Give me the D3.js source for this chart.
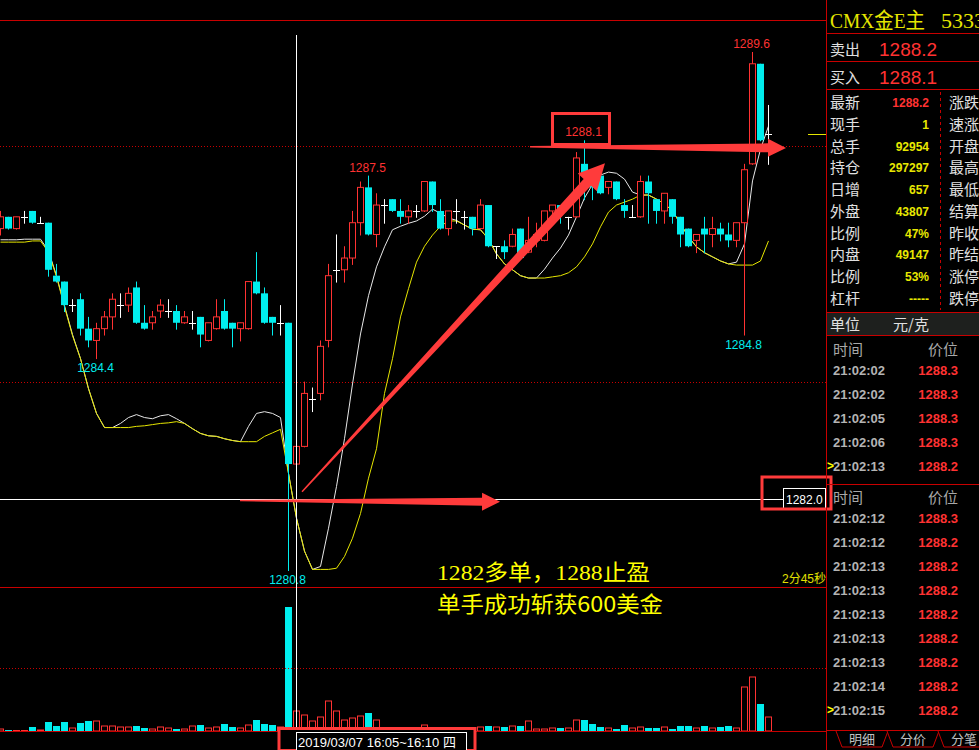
<!DOCTYPE html>
<html>
<head>
<meta charset="utf-8">
<script src="https://cdn.jsdelivr.net/npm/d3@7"></script>
<style>
html, body { margin: 0; padding: 0; background: #000; overflow: hidden; }
svg { display: block; }
text { font-family: "Liberation Sans", Arial, "Noto Sans CJK SC", sans-serif; }
</style>
</head>
<body>
<div id="chart"></div>
<script>
// 1 minute bars (index 0 = first bar on the left)
var opens = [1286.6,1286.8,1286.6,1286.8,1286.9,1286.7,1286.7,1285.8,1285.7,1285.3,
  1285.4,1284.9,1284.7,1284.9,1285.1,1285.3,1285.3,1285.6,1285.0,1285.0,
  1285.2,1285.2,1285.2,1285.0,1285.0,1285.1,1284.7,1284.9,1285.2,1285.0,
  1284.9,1284.9,1285.7,1285.5,1285.1,1285.0,1285.0,1282.6,1282.9,1283.7,
  1283.8,1284.7,1285.9,1285.9,1286.1,1286.7,1287.3,1286.5,1287.0,1287.1,
  1286.9,1286.8,1286.9,1286.9,1287.4,1286.9,1286.6,1286.9,1286.8,1286.8,
  1286.6,1287.0,1286.3,1286.3,1286.3,1286.6,1286.2,1286.4,1286.4,1286.9,
  1287.0,1286.8,1286.8,1287.7,1287.5,1287.5,1287.3,1287.4,1287.0,1286.8,
  1286.8,1287.4,1287.1,1286.9,1287.1,1286.8,1286.6,1286.4,1286.6,1286.5,
  1286.6,1286.5,1286.4,1286.7,1287.7,1289.4,1288.2];
var highs = [1286.9,1286.8,1286.8,1286.9,1286.9,1286.8,1286.7,1286.0,1285.7,1285.4,
  1285.5,1285.1,1285.0,1285.2,1285.5,1285.5,1285.6,1285.7,1285.3,1285.2,
  1285.4,1285.4,1285.3,1285.2,1285.2,1285.1,1285.0,1285.4,1285.4,1285.0,
  1285.0,1285.7,1286.2,1285.6,1285.1,1285.3,1285.0,1282.9,1284.0,1283.9,
  1284.7,1286.0,1286.5,1286.3,1286.9,1287.4,1287.5,1287.2,1287.1,1287.1,
  1287.1,1287.0,1287.0,1287.4,1287.4,1287.1,1286.9,1287.1,1286.9,1286.8,
  1287.1,1287.0,1286.3,1286.4,1286.6,1286.6,1286.8,1286.7,1286.9,1287.0,
  1287.0,1286.8,1287.9,1288.1,1287.5,1287.5,1287.4,1287.4,1287.1,1287.0,
  1287.5,1287.5,1287.1,1287.2,1287.1,1286.8,1286.6,1286.5,1286.8,1286.8,
  1286.7,1286.7,1286.7,1287.7,1289.6,1289.4,1288.7];
var lows = [1286.5,1286.6,1286.6,1286.7,1286.7,1286.7,1285.8,1285.7,1285.2,1285.2,
  1284.8,1284.6,1284.4,1284.8,1284.9,1285.1,1285.2,1285.0,1284.9,1284.9,
  1285.1,1285.1,1284.9,1285.0,1284.9,1284.6,1284.7,1284.9,1284.9,1284.6,
  1284.7,1284.9,1285.5,1285.0,1284.8,1284.8,1280.8,1281.6,1282.9,1283.5,
  1283.7,1284.6,1285.7,1285.7,1286.0,1286.5,1286.5,1286.3,1286.7,1286.9,
  1286.7,1286.7,1286.8,1286.9,1286.9,1286.6,1286.5,1286.7,1286.6,1286.5,
  1286.6,1286.3,1286.1,1286.1,1286.3,1286.1,1286.2,1286.3,1286.4,1286.7,
  1286.7,1286.6,1286.8,1287.1,1287.1,1287.2,1287.2,1287.1,1286.8,1286.8,
  1286.8,1286.7,1286.7,1286.7,1286.7,1286.3,1286.3,1286.2,1286.2,1286.3,
  1286.4,1286.3,1286.3,1284.8,1287.7,1288.1,1287.7];
var closes = [1286.8,1286.6,1286.8,1286.8,1286.7,1286.7,1285.9,1285.7,1285.3,1285.3,
  1284.9,1284.7,1284.9,1285.1,1285.4,1285.3,1285.5,1285.0,1284.9,1285.1,
  1285.3,1285.2,1285.0,1285.1,1285.0,1284.8,1285.0,1285.1,1284.9,1284.9,
  1285.0,1285.7,1285.5,1285.0,1285.0,1285.0,1282.6,1282.9,1283.8,1283.7,
  1284.6,1285.8,1285.9,1286.1,1286.7,1287.3,1286.5,1287.0,1287.0,1286.9,
  1286.8,1286.9,1286.9,1287.4,1287.0,1286.6,1286.9,1286.9,1286.8,1286.6,
  1287.0,1286.3,1286.3,1286.2,1286.5,1286.1,1286.4,1286.5,1286.9,1287.0,
  1286.9,1286.8,1287.8,1287.5,1287.3,1287.2,1287.4,1287.1,1286.9,1286.8,
  1287.4,1287.2,1286.9,1287.2,1286.8,1286.5,1286.3,1286.5,1286.5,1286.6,
  1286.5,1286.4,1286.7,1287.6,1289.4,1288.1,1288.2];
var volumes = [40,20,10,10,80,20,180,100,180,60,
  160,200,200,100,100,80,80,100,60,40,
  80,60,40,40,100,120,60,80,140,80,
  60,120,220,140,120,80,2480,400,320,200,
  280,600,400,220,260,300,360,220,40,40,
  40,40,60,120,60,60,40,60,40,60,
  80,100,80,80,100,100,200,40,40,60,
  60,60,220,220,140,80,60,40,120,60,
  80,60,60,80,40,100,100,60,100,60,
  80,100,60,880,1080,540,280];
// short (white) and long (yellow) average lines
var maShort = [1286.41,1286.41,1286.41,1286.42,1286.42,1286.42,1286.22,1285.80,1285.29,1284.80,
  1284.39,1283.88,1283.46,1283.22,1283.22,1283.29,1283.39,1283.44,1283.39,1283.37,
  1283.42,1283.44,1283.37,1283.29,1283.20,1283.12,1283.08,1283.07,1283.03,1283.00,
  1282.98,1283.24,1283.46,1283.49,1283.46,1283.39,1282.44,1281.68,1281.12,1280.81,
  1280.86,1281.51,1282.22,1283.03,1283.96,1284.81,1285.46,1285.95,1286.29,1286.58,
  1286.64,1286.69,1286.73,1286.81,1286.93,1286.86,1286.78,1286.74,1286.66,1286.59,
  1286.58,1286.42,1286.17,1286.00,1285.90,1285.80,1285.76,1285.76,1285.91,1286.10,
  1286.27,1286.49,1286.80,1287.12,1287.35,1287.51,1287.56,1287.54,1287.44,1287.22,
  1287.17,1287.17,1287.10,1287.02,1286.90,1286.68,1286.46,1286.29,1286.19,1286.12,
  1286.05,1286.00,1286.03,1286.34,1287.41,1287.95,1288.34];
var maLong = [1286.37,1286.37,1286.37,1286.37,1286.39,1286.39,1286.20,1285.78,1285.27,1284.78,
  1284.39,1283.88,1283.46,1283.22,1283.22,1283.22,1283.22,1283.24,1283.25,1283.27,
  1283.29,1283.30,1283.32,1283.29,1283.20,1283.12,1283.08,1283.07,1283.03,1283.00,
  1282.98,1282.98,1282.98,1283.07,1283.13,1283.19,1282.44,1281.68,1281.12,1280.81,
  1280.81,1280.81,1280.83,1281.03,1281.34,1281.76,1282.36,1282.86,1283.80,1284.39,
  1285.10,1285.58,1286.03,1286.30,1286.49,1286.64,1286.73,1286.73,1286.66,1286.59,
  1286.58,1286.42,1286.17,1286.00,1285.90,1285.80,1285.76,1285.76,1285.76,1285.78,
  1285.80,1285.85,1285.95,1286.12,1286.34,1286.63,1286.88,1287.00,1287.05,1287.10,
  1287.17,1287.17,1287.10,1287.02,1286.90,1286.68,1286.46,1286.29,1286.19,1286.12,
  1286.05,1286.00,1285.98,1285.98,1285.98,1286.05,1286.39];

var gridPrices = [1284, 1288];
var highMarks = [94, 73, 46];
var lowMarks = [12, 93, 36];
var crossIndex = 37;
var crossPrice = 1282.0;

// quote panel
var title = "CMX金E主";
var titleCode = "5333";
var askBid = [["卖出", "1288.2"], ["买入", "1288.1"]];
var quoteLabels = ["最新", "现手", "总手", "持仓", "日增", "外盘", "比例", "内盘", "比例", "杠杆"];
var quoteValues = ["1288.2", "1", "92954", "297297", "657", "43807", "47%", "49147", "53%", "-----"];
var quoteLabels2 = ["涨跌", "速涨", "开盘", "最高", "最低", "结算", "昨收", "昨结", "涨停", "跌停"];
var tickTimes1 = ["21:02:02", "21:02:02", "21:02:05", "21:02:06", "21:02:13"];
var tickPrices1 = ["1288.3", "1288.3", "1288.3", "1288.3", "1288.2"];
var tickTimes2 = ["21:02:12", "21:02:12", "21:02:13", "21:02:13", "21:02:13", "21:02:13", "21:02:13", "21:02:14", "21:02:15"];
var tickPrices2 = ["1288.3", "1288.2", "1288.2", "1288.2", "1288.2", "1288.2", "1288.2", "1288.2", "1288.2"];
var tabs = ["明细", "分价", "分笔"];

var RED = "#ff3232", CYAN = "#00eeee", YEL = "#ffff00", LINE = "#c80000";

var svg = d3.select("#chart").append("svg")
  .attr("width", 979)
  .attr("height", 750);
svg.append("rect").attr("width", 979).attr("height", 750).attr("fill", "#000");

var xScale = d3.scaleLinear().domain([0, 96]).range([0.5, 768.5]);
var yScale = d3.scaleLinear().domain([1280.8, 1289.6]).range([570, 52]);
var vScale = d3.scaleLinear().domain([0, 2880]).range([731, 587]);

var bars = opens.map(function(o, i) {
  var c = closes[i];
  return {i: i, o: o, h: highs[i], l: lows[i], c: c, v: volumes[i],
    dir: c > o ? 1 : (c < o ? -1 : 0)};
});
function barColor(d) { return d.dir > 0 ? RED : (d.dir < 0 ? CYAN : "#ffffff"); }

svg.append("clipPath").attr("id", "mainClip")
  .append("rect").attr("x", 0).attr("y", 21).attr("width", 826).attr("height", 710);
var chart = svg.append("g").attr("clip-path", "url(#mainClip)");

// frame lines
svg.append("line").attr("x1", 0).attr("x2", 826).attr("y1", 20.5).attr("y2", 20.5).attr("stroke", LINE);
svg.append("line").attr("x1", 0).attr("x2", 826).attr("y1", 587.5).attr("y2", 587.5).attr("stroke", LINE);
svg.append("line").attr("x1", 0).attr("x2", 826).attr("y1", 731.5).attr("y2", 731.5).attr("stroke", LINE);
chart.selectAll(".grid").data(gridPrices).enter().append("line")
  .attr("x1", 0).attr("x2", 826)
  .attr("y1", d => Math.round(yScale(d)) + 0.5).attr("y2", d => Math.round(yScale(d)) + 0.5)
  .attr("stroke", LINE).attr("stroke-dasharray", "1,2");
svg.append("line").attr("x1", 0).attr("x2", 826)
  .attr("y1", Math.round(vScale(1260)) + 0.5).attr("y2", Math.round(vScale(1260)) + 0.5)
  .attr("stroke", LINE).attr("stroke-dasharray", "1,2");

// crosshair horizontal
chart.append("line").attr("x1", 0).attr("x2", 783)
  .attr("y1", Math.round(yScale(crossPrice)) + 0.5).attr("y2", Math.round(yScale(crossPrice)) + 0.5)
  .attr("stroke", "#ffffff");

// average lines
var maLine = d3.line().x((d, i) => xScale(i)).y(d => yScale(d));
chart.append("path").datum(maShort).attr("d", maLine).attr("fill", "none").attr("stroke", "#e8e8e8").attr("stroke-width", 1);
chart.append("path").datum(maLong).attr("d", maLine).attr("fill", "none").attr("stroke", "#e6e600").attr("stroke-width", 1);

// wicks
chart.selectAll(".wick").data(bars).enter().append("line")
  .attr("x1", d => xScale(d.i)).attr("x2", d => xScale(d.i))
  .attr("y1", d => yScale(d.h)).attr("y2", d => yScale(d.l) + 1)
  .attr("stroke", barColor);

// bodies
chart.selectAll(".body").data(bars.filter(d => d.dir !== 0)).enter().append("rect")
  .attr("x", d => d.dir > 0 ? xScale(d.i) - 3 : xScale(d.i) - 3.5)
  .attr("width", d => d.dir > 0 ? 6 : 7)
  .attr("y", d => yScale(Math.max(d.o, d.c)))
  .attr("height", d => Math.max(1, Math.abs(yScale(d.o) - yScale(d.c))))
  .attr("fill", d => d.dir > 0 ? "#000" : CYAN)
  .attr("stroke", d => d.dir > 0 ? RED : "none");
chart.selectAll(".doji").data(bars.filter(d => d.dir === 0)).enter().append("line")
  .attr("x1", d => xScale(d.i) - 3.5).attr("x2", d => xScale(d.i) + 3.5)
  .attr("y1", d => Math.round(yScale(d.o)) + 0.5).attr("y2", d => Math.round(yScale(d.o)) + 0.5)
  .attr("stroke", "#ffffff");

// volume
chart.selectAll(".vol").data(bars).enter().append("rect")
  .attr("x", d => d.dir < 0 ? xScale(d.i) - 3.5 : xScale(d.i) - 3)
  .attr("width", d => d.dir < 0 ? 7 : 6)
  .attr("y", d => vScale(d.v))
  .attr("height", d => vScale(0) - vScale(d.v))
  .attr("fill", d => d.dir < 0 ? CYAN : "#000")
  .attr("stroke", d => d.dir < 0 ? "none" : RED);

// high / low labels
chart.selectAll(".hl").data(highMarks).enter().append("text")
  .attr("x", d => xScale(d) - 1).attr("y", d => yScale(highs[d]) - 4)
  .attr("text-anchor", "middle").attr("font-size", 12).attr("fill", RED)
  .text(d => highs[d].toFixed(1));
chart.selectAll(".ll").data(lowMarks).enter().append("text")
  .attr("x", d => xScale(d) - 1).attr("y", d => yScale(lows[d]) + 14)
  .attr("text-anchor", "middle").attr("font-size", 12).attr("fill", CYAN)
  .text(d => lows[d].toFixed(1));

// last price marker at right edge
svg.append("line").attr("x1", 808).attr("x2", 826)
  .attr("y1", Math.round(yScale(closes[closes.length - 1])) + 0.5)
  .attr("y2", Math.round(yScale(closes[closes.length - 1])) + 0.5)
  .attr("stroke", "#e6e600");

// crosshair vertical
svg.append("line").attr("x1", xScale(crossIndex)).attr("x2", xScale(crossIndex))
  .attr("y1", 35).attr("y2", 750).attr("stroke", "#ffffff");

svg.append("text").attr("x", 782).attr("y", 583).attr("font-size", 12).attr("fill", "#e0e000").text("2分45秒");

// annotations: arrows
var arrows = [
  {from: [29.94, 1281.98], to: [62.44, 1281.96], w1: 1.5, w2: 8, hl: 18, hw: 9},
  {from: [37.69, 1282.13], to: [75.56, 1287.71], w1: 1.5, w2: 10, hl: 26, hw: 13},
  {from: [66.19, 1287.99], to: [98.19, 1287.97], w1: 1.5, w2: 9, hl: 18, hw: 9}
];
function arrowShape(a) {
  var x1 = xScale(a.from[0]), y1 = yScale(a.from[1]), x2 = xScale(a.to[0]), y2 = yScale(a.to[1]);
  var dx = x2 - x1, dy = y2 - y1, len = Math.hypot(dx, dy);
  var ux = dx / len, uy = dy / len, nx = -uy, ny = ux;
  var bx = x2 - ux * a.hl, by = y2 - uy * a.hl;
  return [[x1 + nx * a.w1 / 2, y1 + ny * a.w1 / 2], [bx + nx * a.w2 / 2, by + ny * a.w2 / 2],
    [bx + nx * a.hw, by + ny * a.hw], [x2, y2], [bx - nx * a.hw, by - ny * a.hw],
    [bx - nx * a.w2 / 2, by - ny * a.w2 / 2], [x1 - nx * a.w1 / 2, y1 - ny * a.w1 / 2]];
}
svg.selectAll(".arrow").data(arrows).enter().append("path")
  .attr("d", d => d3.line()(arrowShape(d)) + "Z")
  .attr("fill", "#ff3b3b");

// annotation boxes
svg.append("rect").attr("x", 552.5).attr("y", 113.5).attr("width", 57).attr("height", 31)
  .attr("fill", "none").attr("stroke", "#ff3b3b").attr("stroke-width", 3);
svg.append("rect").attr("x", 783.5).attr("y", 488.5).attr("width", 42).attr("height", 21)
  .attr("fill", "#000").attr("stroke", "#ffffff");
svg.append("text").attr("x", 786).attr("y", 504).attr("font-size", 12).attr("fill", "#ffffff").text(crossPrice.toFixed(1));
svg.append("rect").attr("x", 762).attr("y", 477).attr("width", 69).attr("height", 32)
  .attr("fill", "none").attr("stroke", "#ff3b3b").attr("stroke-width", 3);

// date label
svg.append("rect").attr("x", 279).attr("y", 728.5).attr("width", 196).attr("height", 22)
  .attr("fill", "#000").attr("stroke", "#ff3b3b").attr("stroke-width", 3);
svg.append("rect").attr("x", 296.5).attr("y", 732.5).attr("width", 170).attr("height", 20)
  .attr("fill", "#000").attr("stroke", "#ffffff");
svg.append("text").attr("x", 298).attr("y", 747).attr("font-size", 13).attr("fill", "#ffffff")
  .text("2019/03/07 16:05~16:10 四");

// comment text
svg.append("text").attr("x", 437).attr("y", 580).attr("font-size", 22).attr("fill", YEL)
  .attr("textLength", 213).attr("lengthAdjust", "spacingAndGlyphs")
  .style("font-family", "'Liberation Serif','Noto Sans CJK SC',serif")
  .text("1282多单，1288止盈");
svg.append("text").attr("x", 437).attr("y", 612).attr("font-size", 22).attr("fill", YEL)
  .attr("textLength", 226).attr("lengthAdjust", "spacingAndGlyphs")
  .style("font-family", "'Noto Sans CJK SC',sans-serif")
  .text("单手成功斩获600美金");

// ---------- right quote panel ----------
var panel = svg.append("g");
panel.append("line").attr("x1", 826.5).attr("x2", 826.5).attr("y1", 0).attr("y2", 750).attr("stroke", LINE);
panel.append("text").attr("x", 830).attr("y", 28).attr("font-size", 22).attr("fill", "#e6e600")
  .attr("textLength", 95).attr("lengthAdjust", "spacingAndGlyphs")
  .style("font-family", "'Liberation Serif','Noto Sans CJK SC',serif").text(title);
panel.append("text").attr("x", 941).attr("y", 28).attr("font-size", 22).attr("fill", "#e6e600")
  .style("font-family", "'Liberation Serif',serif").text(titleCode);

[33.5, 61.5, 89.5, 312.5, 335.5, 484.5, 730.5].forEach(function(y) {
  panel.append("line").attr("x1", 826).attr("x2", 979).attr("y1", y).attr("y2", y).attr("stroke", LINE);
});

askBid.forEach(function(r, k) {
  panel.append("text").attr("x", 830).attr("y", 55 + k * 28).attr("font-size", 15).attr("fill", "#e0e0e0")
    .style("font-family", "'Noto Sans CJK SC',sans-serif").text(r[0]);
  panel.append("text").attr("x", 879).attr("y", 56 + k * 28).attr("font-size", 19).attr("fill", RED).text(r[1]);
});

var rowY = d3.scaleLinear().domain([0, 9]).range([108, 304]);
panel.selectAll(".ql").data(quoteLabels).enter().append("text")
  .attr("x", 830).attr("y", (d, i) => rowY(i)).attr("font-size", 15).attr("fill", "#e0e0e0")
  .style("font-family", "'Noto Sans CJK SC',sans-serif").text(d => d);
panel.selectAll(".qv").data(quoteValues).enter().append("text")
  .attr("x", 929).attr("y", (d, i) => rowY(i) - 1).attr("text-anchor", "end")
  .attr("font-size", 12).attr("font-weight", "bold")
  .attr("fill", (d, i) => i === 0 ? RED : "#e8e800").text(d => d);
panel.selectAll(".ql2").data(quoteLabels2).enter().append("text")
  .attr("x", 949).attr("y", (d, i) => rowY(i)).attr("font-size", 15).attr("fill", "#e0e0e0")
  .style("font-family", "'Noto Sans CJK SC',sans-serif").text(d => d);
panel.append("line").attr("x1", 940.5).attr("x2", 940.5).attr("y1", 92).attr("y2", 310)
  .attr("stroke", LINE).attr("stroke-dasharray", "3,3");

panel.append("rect").attr("x", 827).attr("y", 313).attr("width", 152).attr("height", 22).attr("fill", "#1e201e");
panel.append("text").attr("x", 830).attr("y", 330).attr("font-size", 15).attr("fill", "#e0e0e0")
  .style("font-family", "'Noto Sans CJK SC',sans-serif").text("单位");
panel.append("text").attr("x", 893).attr("y", 330).attr("font-size", 15).attr("fill", "#e0e0e0")
  .style("font-family", "'Noto Sans CJK SC',sans-serif").text("元/克");

function tickList(times, prices, headY, firstY) {
  panel.append("text").attr("x", 833).attr("y", headY).attr("font-size", 15).attr("fill", "#a8a8a8")
    .style("font-family", "'Noto Sans CJK SC',sans-serif").text("时间");
  panel.append("text").attr("x", 958).attr("y", headY).attr("text-anchor", "end").attr("font-size", 15).attr("fill", "#a8a8a8")
    .style("font-family", "'Noto Sans CJK SC',sans-serif").text("价位");
  var ty = d3.scaleLinear().domain([0, 1]).range([firstY, firstY + 24]);
  panel.selectAll(null).data(times).enter().append("text")
    .attr("x", 833).attr("y", (d, i) => ty(i)).attr("font-size", 13).attr("font-weight", "bold")
    .attr("fill", "#b4b4b4").text(d => d);
  panel.selectAll(null).data(prices).enter().append("text")
    .attr("x", 958).attr("y", (d, i) => ty(i)).attr("text-anchor", "end").attr("font-size", 13)
    .attr("font-weight", "bold").attr("fill", RED).text(d => d);
  panel.append("text").attr("x", 827).attr("y", ty(times.length - 1) - 1).attr("font-size", 12)
    .attr("font-weight", "bold").attr("fill", YEL).text(">");
}
tickList(tickTimes1, tickPrices1, 355, 375);
tickList(tickTimes2, tickPrices2, 503, 523);

tabs.forEach(function(t, k) {
  var x0 = 836 + 51 * k;
  panel.append("path")
    .attr("d", d3.line()([[x0, 731], [x0 + 6, 747], [x0 + 46, 747], [x0 + 52, 731]]))
    .attr("fill", "#000").attr("stroke", LINE);
  panel.append("text").attr("x", x0 + 26).attr("y", 744).attr("text-anchor", "middle")
    .attr("font-size", 13).attr("fill", "#c0c0c0")
    .style("font-family", "'Noto Sans CJK SC',sans-serif").text(t);
});
</script>
</body>
</html>
